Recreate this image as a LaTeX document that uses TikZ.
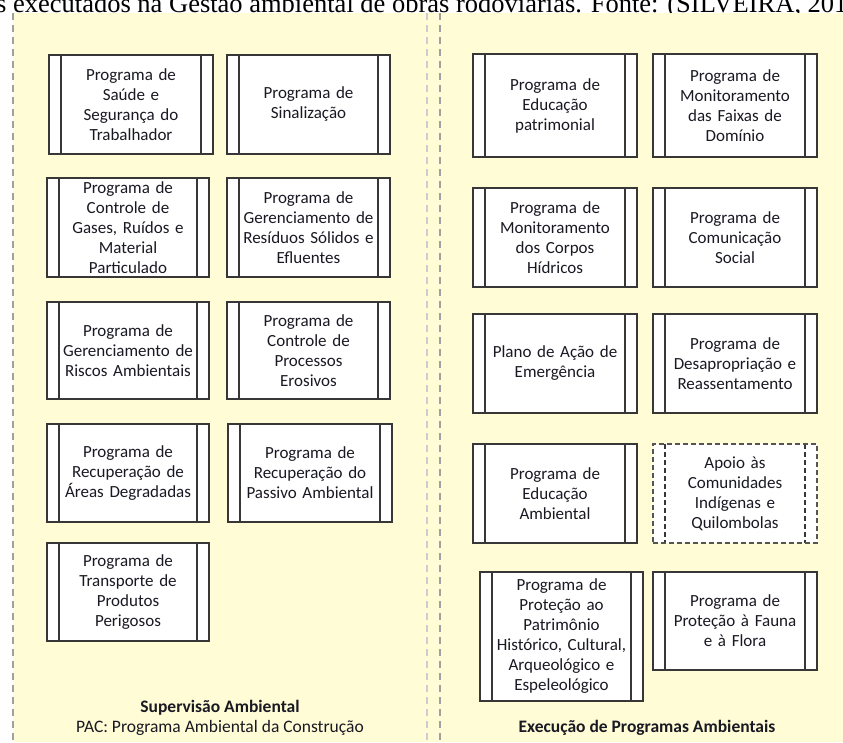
\documentclass[tikz,border=0pt]{standalone}
\usepackage{fontspec}
\setmainfont{Carlito}
\newfontfamily\capfont{Liberation Serif}
\definecolor{bgyellow}{RGB}{255,252,214}
\definecolor{boxline}{RGB}{55,55,55}
\definecolor{sepgray}{RGB}{160,160,160}
\definecolor{seplight}{RGB}{205,205,205}
\definecolor{textcol}{RGB}{25,25,35}
\tikzset{
  procbox/.style={draw=boxline, fill=white, line width=1.3pt, inner sep=0pt,
    minimum height=#1, text width=140pt, align=center, text=textcol,
    font=\fontsize{17}{20}\selectfont,
    path picture={
      \draw[boxline, line width=1.3pt]
        ([xshift=12pt]path picture bounding box.north west) -- ([xshift=12pt]path picture bounding box.south west)
        ([xshift=-12pt]path picture bounding box.north east) -- ([xshift=-12pt]path picture bounding box.south east);
    }},
  procbox/.default=99pt,
  dbox/.style={dash pattern=on 5pt off 3pt, draw=boxline!85},
  sepline/.style={line width=1.2pt, dash pattern=on 7pt off 5pt},
  grouplabel/.style={font=\fontsize{17.5}{20}\selectfont, text=textcol, inner sep=0pt}
}
\begin{document}
\begin{tikzpicture}[x=1pt,y=-1pt]
\useasboundingbox (0,0) rectangle (843,742);
\clip (0,0) rectangle (843,742);
% caption (cut off, as in the reference)
\node[anchor=base west, inner sep=0pt, font=\capfont\fontsize{26.5}{30}\selectfont] (cap) at (-4,12.5)
  {s executados na Gestão ambiental de obras rodoviárias. Fonte: (SILVEIRA, 2016)};
% background
\fill[bgyellow] (13,13) rectangle (843,742);
% separators
\coordinate (s1t) at (13,13); \coordinate (s1b) at (13,742);
\coordinate (s2t) at (427,13); \coordinate (s2b) at (427,742);
\coordinate (s3t) at (440,13); \coordinate (s3b) at (440,742);
\draw[sepline, draw=sepgray] (s1t) -- (s1b);
\draw[sepline, draw=seplight] (s2t) -- (s2b);
\draw[sepline, draw=sepgray] (s3t) -- (s3b);
% left column
\node[procbox, minimum width=164pt] (l1) at (131,104.5) {Programa de\\Saúde e\\Segurança do\\Trabalhador};
\node[procbox, minimum width=163pt] (l2) at (308.5,104.5) {Programa de\\Sinalização};
\node[procbox, minimum width=162pt] (l3) at (128,227.5) {Programa de\\Controle de\\Gases, Ruídos e\\Material\\Particulado};
\node[procbox, minimum width=163pt] (l4) at (308.5,227.5) {Programa de\\Gerenciamento de\\Resíduos Sólidos e\\Efluentes};
\node[procbox=97pt, minimum width=162pt] (l5) at (128,350.5) {Programa de\\Gerenciamento de\\Riscos Ambientais};
\node[procbox=97pt, minimum width=163pt] (l6) at (308.5,350.5) {Programa de\\Controle de\\Processos\\Erosivos};
\node[procbox=98pt, minimum width=162pt] (l7) at (128,473) {Programa de\\Recuperação de\\Áreas Degradadas};
\node[procbox=98pt, minimum width=164pt] (l8) at (310,473) {Programa de\\Recuperação do\\Passivo Ambiental};
\node[procbox=98pt, minimum width=162pt] (l9) at (128,592) {Programa de\\Transporte de\\Produtos\\Perigosos};
% right column
\node[procbox=103pt, minimum width=164pt] (r1) at (555,105.5) {Programa de\\Educação\\patrimonial};
\node[procbox=103pt, minimum width=164pt] (r2) at (735,105.5) {Programa de\\Monitoramento\\das Faixas de\\Domínio};
\node[procbox, minimum width=164pt] (r3) at (555,237.5) {Programa de\\Monitoramento\\dos Corpos\\Hídricos};
\node[procbox, minimum width=164pt] (r4) at (735,237.5) {Programa de\\Comunicação\\Social};
\node[procbox, minimum width=164pt] (r5) at (555,363.5) {Plano de Ação de\\Emergência};
\node[procbox, minimum width=164pt] (r6) at (735,363.5) {Programa de\\Desapropriação e\\Reassentamento};
\node[procbox, minimum width=164pt] (r7) at (555,493.5) {Programa de\\Educação\\Ambiental};
\node[procbox, dbox, minimum width=164pt] (r8) at (735,493.5) {Apoio às\\Comunidades\\Indígenas e\\Quilombolas};
\node[procbox=129pt, minimum width=163pt] (r9) at (561.5,636.5) {Programa de\\Proteção ao\\Patrimônio\\Histórico, Cultural,\\Arqueológico e\\Espeleológico};
\node[procbox=98pt, minimum width=164pt] (r10) at (735,621) {Programa de\\Proteção à Fauna\\e à Flora};
% group labels
\node[grouplabel, font=\bfseries\fontsize{17.5}{20}\selectfont] (g1) at (220,708) {Supervisão Ambiental};
\node[grouplabel] (g1b) at (220,728) {PAC: Programa Ambiental da Construção};
\node[grouplabel, font=\bfseries\fontsize{17.5}{20}\selectfont] (g2) at (647,728) {Execução de Programas Ambientais};
\end{tikzpicture}
\end{document}
